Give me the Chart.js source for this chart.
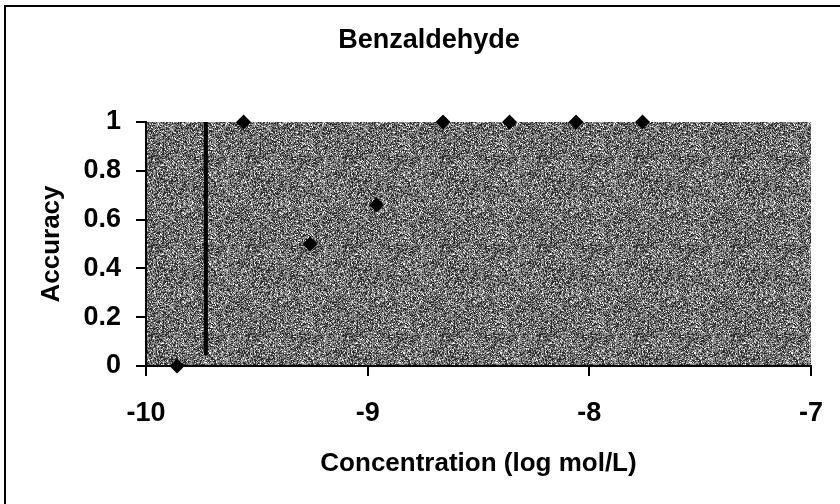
<!DOCTYPE html>
<html>
<head>
<meta charset="utf-8">
<title>Benzaldehyde</title>
<script src="https://cdn.jsdelivr.net/npm/chart.js@4.4.1/dist/chart.umd.min.js"></script>
<style>
  body { margin: 0; background: #fff; }
  #wrap { width: 840px; height: 504px; }
</style>
</head>
<body>
<div id="wrap"><canvas id="chart" width="840" height="504"></canvas></div>
<script>
// data
var chartTitle = 'Benzaldehyde';
var concentration = [-9.86, -9.56, -9.26, -8.96, -8.66, -8.36, -8.06, -7.76];
var accuracy = [0, 1, 0.5, 0.66, 1, 1, 1, 1];
var cutoffX = [-9.73, -9.73];
var cutoffY = [0.045, 1];
var xTicks = [-10, -9, -8, -7];
var yTicks = [0, 0.2, 0.4, 0.6, 0.8, 1];

var points = concentration.map(function(c, i){ return {x: c, y: accuracy[i]}; });
var cutoff = cutoffX.map(function(c, i){ return {x: c, y: cutoffY[i]}; });

Chart.defaults.font.family = '"Liberation Sans", Arial, sans-serif';
Chart.defaults.font.size = 26;
Chart.defaults.font.weight = 'bold';
Chart.defaults.color = '#000';

// speckled grey texture for the plot area
var makeSpeckle = function(){
  var c = document.createElement('canvas');
  c.width = 97; c.height = 89;
  var g = c.getContext('2d');
  var img = g.createImageData(c.width, c.height);
  var seed = 12345;
  for (var i = 0; i < c.width * c.height; i++) {
    seed = (seed * 1103515245 + 12345) & 0x7fffffff;
    var r = seed / 0x7fffffff;
    var v = r < 0.33 ? 45 : r < 0.78 ? 125 : r < 0.92 ? 175 : 240;
    img.data[i*4] = v; img.data[i*4+1] = v; img.data[i*4+2] = v; img.data[i*4+3] = 255;
  }
  g.putImageData(img, 0, 0);
  return c;
};
var speckle = makeSpeckle();

var framePlugin = {
  id: 'frame',
  beforeDraw: function(chart){
    var ctx = chart.ctx, a = chart.chartArea;
    ctx.save();
    ctx.fillStyle = ctx.createPattern(speckle, 'repeat');
    ctx.fillRect(a.left, a.top, a.right - a.left, a.bottom - a.top);
    // outer frame (only left and top edges show in the picture)
    ctx.strokeStyle = '#000';
    ctx.lineWidth = 2;
    ctx.beginPath();
    ctx.moveTo(5, 504);
    ctx.lineTo(5, 6);
    ctx.lineTo(840, 6);
    ctx.stroke();
    ctx.restore();
  },
  afterDraw: function(chart){
    var ctx = chart.ctx;
    ctx.save();
    ctx.font = 'bold 27px "Liberation Sans", Arial, sans-serif';
    ctx.fillStyle = '#000';
    ctx.textAlign = 'center';
    ctx.textBaseline = 'middle';
    ctx.fillText(chartTitle, 429, 41);
    ctx.restore();
  }
};

var chart = new Chart(document.getElementById('chart'), {
  type: 'scatter',
  data: {
    datasets: [{
      label: 'Accuracy',
      data: points,
      pointStyle: 'rectRot',
      pointRadius: 7.5,
      pointHoverRadius: 7.5,
      backgroundColor: '#000',
      borderColor: '#000',
      borderWidth: 0,
      clip: false
    }, {
      type: 'line',
      label: 'cutoff',
      data: cutoff,
      borderColor: '#000',
      borderWidth: 4,
      pointRadius: 0,
      fill: false
    }]
  },
  options: {
    responsive: false,
    animation: false,
    layout: { padding: { top: 122, left: 0, right: 29, bottom: 0 } },
    plugins: {
      legend: { display: false },
      tooltip: { enabled: false },
      title: { display: false }
    },
    scales: {
      x: {
        type: 'linear',
        min: -10,
        max: -7,
        afterBuildTicks: function(s){ s.ticks = xTicks.map(function(v){ return {value: v}; }); },
        afterFit: function(s){ s.height = 138; s.paddingRight = 0; s.paddingLeft = 0; },
        ticks: { padding: 21, font: { size: 27 }, callback: function(v){ return String(v); } },
        grid: { drawOnChartArea: false, color: '#000', lineWidth: 2, tickLength: 10, tickWidth: 2 },
        border: { display: true, color: '#000', width: 2 },
        title: { display: true, text: 'Concentration (log mol/L)', padding: { top: 0, bottom: 25 } }
      },
      y: {
        min: 0,
        max: 1,
        afterBuildTicks: function(s){ s.ticks = yTicks.map(function(v){ return {value: v}; }); },
        afterFit: function(s){ s.width = 146; },
        ticks: { padding: 15, font: { size: 27 }, callback: function(v){ return String(v); } },
        grid: { drawOnChartArea: false, color: '#000', lineWidth: 2, tickLength: 10, tickWidth: 2 },
        border: { display: true, color: '#000', width: 2 },
        title: { display: true, text: 'Accuracy', padding: { top: 36, bottom: 0 } }
      }
    }
  },
  plugins: [framePlugin]
});
</script>
</body>
</html>
